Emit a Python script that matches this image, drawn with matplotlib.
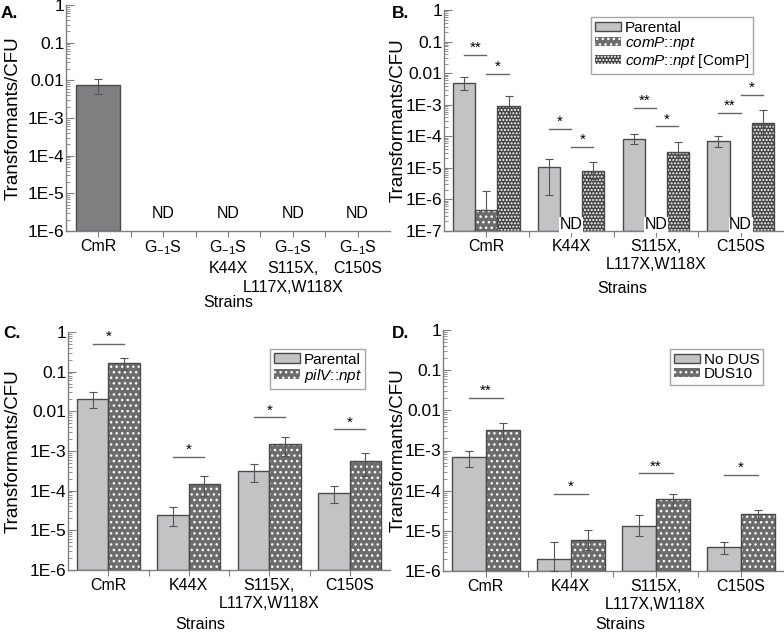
import numpy as np
import matplotlib
matplotlib.use('Agg')
import matplotlib.pyplot as plt
from matplotlib.patches import Patch
from matplotlib.ticker import FixedLocator, LogLocator, NullFormatter

plt.rcParams['font.family'] = ['Liberation Sans', 'DejaVu Sans']
plt.rcParams['mathtext.fontset'] = 'custom'
plt.rcParams['mathtext.rm'] = 'Liberation Sans'
plt.rcParams['mathtext.it'] = 'Liberation Sans:italic'
plt.rcParams['hatch.linewidth'] = 1.0

# ---- data ----
# panel A
a_strains = ['CmR', 'G$_{-1}$S', 'G$_{-1}$S\nK44X', 'G$_{-1}$S\nS115X,\nL117X,W118X', 'G$_{-1}$S\nC150S']
a_vals = [7.6e-3, np.nan, np.nan, np.nan, np.nan]
a_lo = [4.4e-3, np.nan, np.nan, np.nan, np.nan]
a_hi = [1.07e-2, np.nan, np.nan, np.nan, np.nan]

strains = ['CmR', 'K44X', 'S115X,\nL117X,W118X', 'C150S']

# panel B
b_parental = [4.9e-3, 1.05e-5, 8.5e-5, 7.1e-5]
b_parental_lo = [2.9e-3, 1.4e-6, 5.7e-5, 4.6e-5]
b_parental_hi = [7.4e-3, 1.95e-5, 1.15e-4, 1.0e-4]
b_comp = [4.5e-7, np.nan, np.nan, np.nan]
b_comp_lo = [4.5e-7, np.nan, np.nan, np.nan]
b_comp_hi = [1.8e-6, np.nan, np.nan, np.nan]
b_compc = [9.3e-4, 7.9e-6, 3.2e-5, 2.7e-4]
b_compc_lo = [5.1e-4, 4.5e-6, 1.6e-5, 1.1e-4]
b_compc_hi = [1.9e-3, 1.5e-5, 6.4e-5, 6.8e-4]
b_sig_cat = [0, 0, 1, 1, 2, 2, 3, 3]
b_sig_from = [0, 1, 0, 1, 0, 1, 0, 1]
b_sig_y = [0.037, 9.6e-3, 1.75e-4, 4.6e-5, 7.9e-4, 2.05e-4, 5.4e-4, 2.1e-3]
b_sig_txt = ['**', '*', '*', '*', '**', '*', '**', '*']

# panel C
c_parental = [0.021, 2.5e-5, 3.1e-4, 8.8e-5]
c_parental_lo = [0.012, 1.3e-5, 1.7e-4, 4.8e-5]
c_parental_hi = [0.031, 3.8e-5, 4.7e-4, 1.28e-4]
c_pilv = [0.165, 1.5e-4, 1.5e-3, 5.7e-4]
c_pilv_lo = [0.11, 7.5e-5, 7.5e-4, 2.3e-4]
c_pilv_hi = [0.22, 2.3e-4, 2.3e-3, 9.0e-4]
c_sig_y = [0.5, 7e-4, 7e-3, 3.5e-3]
c_sig_txt = ['*', '*', '*', '*']

# panel D
d_nodus = [6.8e-4, 2.0e-6, 1.34e-5, 4.0e-6]
d_nodus_lo = [3.9e-4, 1.0e-6, 7.5e-6, 2.6e-6]
d_nodus_hi = [9.5e-4, 5.3e-6, 2.5e-5, 5.2e-6]
d_dus10 = [3.3e-3, 5.8e-6, 6.2e-5, 2.6e-5]
d_dus10_lo = [1.75e-3, 3.4e-6, 3.7e-5, 1.9e-5]
d_dus10_hi = [4.8e-3, 1.04e-5, 8.5e-5, 3.3e-5]
d_sig_y = [0.02, 8.3e-5, 2.7e-4, 2.5e-4]
d_sig_txt = ['**', '*', '**', '*']

# ---- style ----
EDGE = '#4a4a4a'
AXC = '#808080'
C_PAR = '#c3c3c5'
C_DOT = '#6c6c6c'
C_CHK = '#454545'
C_A = '#7f7f81'
FS_X = 11.5     # x tick labels / Strains
FS_Y = 12.5     # y tick labels
FS_YL = 13.5    # y axis label
FS_LG = 11

fig = plt.figure(figsize=(7.84, 6.32), dpi=100)


def draw_bars(ax, x, vals, w, fc, hatch, bottom):
    vals = np.asarray(vals, float)
    ok = ~np.isnan(vals)
    x = np.asarray(x)[ok]
    h = vals[ok] - bottom
    if hatch:
        ax.bar(x, h, w, bottom=bottom, color=fc, edgecolor='white', hatch=hatch, lw=0, zorder=2)
        ax.bar(x, h, w, bottom=bottom, fill=False, edgecolor=EDGE, lw=1, zorder=3)
    else:
        ax.bar(x, h, w, bottom=bottom, color=fc, edgecolor=EDGE, lw=1, zorder=2)


def draw_err(ax, x, vals, lo, hi):
    vals = np.asarray(vals, float)
    ok = ~np.isnan(vals)
    v = vals[ok]
    yerr = [v - np.asarray(lo, float)[ok], np.asarray(hi, float)[ok] - v]
    ax.errorbar(np.asarray(x)[ok], v, yerr=yerr, fmt='none', ecolor='#555555',
                elinewidth=0.8, capsize=3, capthick=0.8, zorder=4)


def setup(ax, ymin, labels, xlab_xy, ylab_x):
    ax.set_yscale('log')
    ax.set_ylim(ymin, 1)
    n = len(labels)
    ax.set_xlim(-0.5, n - 0.5)
    decs = np.arange(int(round(np.log10(ymin))), 1)
    ax.yaxis.set_major_locator(FixedLocator(10.0 ** decs))
    names = {0: '1', -1: '0.1', -2: '0.01'}
    ax.set_yticklabels([names.get(d, '1E%d' % d) for d in decs])
    ax.yaxis.set_minor_locator(LogLocator(base=10, subs=np.arange(2, 10), numticks=20))
    ax.yaxis.set_minor_formatter(NullFormatter())
    ax.set_xticks(range(n))
    ax.set_xticklabels([''] * n)
    ax.set_xticks(np.arange(n - 1) + 0.5, minor=True)
    # strain names written as text so the line spacing can be set
    for i, lab in enumerate(labels):
        ax.annotate(lab, (i, 0), xycoords=('data', 'axes fraction'), xytext=(0, -5.5),
                    textcoords='offset points', ha='center', va='top',
                    fontsize=FS_X, linespacing=1.3, annotation_clip=False)
    ax.tick_params(axis='y', which='major', direction='in', length=6, width=0.8,
                   color=AXC, labelsize=FS_Y, pad=1)
    ax.tick_params(axis='y', which='minor', direction='in', length=3, width=0.6, color=AXC)
    ax.tick_params(axis='x', which='both', direction='out', length=4, width=0.8, color=AXC, pad=3)
    for s in ['top', 'right']:
        ax.spines[s].set_visible(False)
    for s in ['left', 'bottom']:
        ax.spines[s].set_color(AXC)
        ax.spines[s].set_linewidth(1.0)
    ax.set_ylabel('Transformants/CFU', fontsize=FS_YL)
    ax.yaxis.set_label_coords(ylab_x, 0.5)
    ax.set_xlabel('Strains', fontsize=FS_X, va='center')
    ax.xaxis.set_label_coords(*xlab_xy)


def sig(ax, x0, x1, y, txt):
    ax.plot([x0, x1], [y, y], color='#666666', lw=1, zorder=5)
    ax.annotate(txt, ((x0 + x1) / 2, y), xytext=(0, 0), textcoords='offset points',
                ha='center', va='bottom', fontsize=11)


def legend(ax, handles, labels, bbox):
    lg = ax.legend(handles, labels, loc='upper left', bbox_to_anchor=bbox, fontsize=FS_LG,
                   frameon=True, fancybox=False, edgecolor='#909090', handlelength=1.7,
                   handleheight=0.6, handletextpad=0.25, labelspacing=0.0,
                   borderpad=0.25, borderaxespad=0)
    lg.get_frame().set_linewidth(1.0)


def hatch_handle(fc, hatch):
    return Patch(facecolor=fc, edgecolor='white', hatch=hatch, lw=0)


# ---- Panel A ----
axA = fig.add_axes([66 / 784, 1 - 231 / 632, 324 / 784, 226 / 632])
setup(axA, 1e-6, a_strains, (0.5, -0.318), -0.136)
xa = np.arange(len(a_strains))
draw_bars(axA, xa, a_vals, 0.68, C_A, None, 1e-6)
draw_err(axA, xa, a_vals, a_lo, a_hi)
for i, v in enumerate(a_vals):
    if np.isnan(v):
        axA.text(i, 2.9e-6, 'ND', ha='center', va='center', fontsize=FS_X)

# ---- Panel B ----
axB = fig.add_axes([444 / 784, 1 - 231 / 632, 339 / 784, 221 / 632])
setup(axB, 1e-7, strains, (0.525, -0.26), -0.109)
xb = np.arange(len(strains))
w = 0.262
draw_bars(axB, xb - w, b_parental, w, C_PAR, None, 1e-7)
draw_bars(axB, xb, b_comp, w, C_DOT, '...', 1e-7)
draw_bars(axB, xb + w, b_compc, w, C_CHK, '.....', 1e-7)
draw_err(axB, xb - w, b_parental, b_parental_lo, b_parental_hi)
draw_err(axB, xb, b_comp, b_comp_lo, b_comp_hi)
draw_err(axB, xb + w, b_compc, b_compc_lo, b_compc_hi)
for i, v in enumerate(b_comp):
    if np.isnan(v):
        axB.text(i, 1.55e-7, 'ND', ha='center', va='center', fontsize=FS_X, zorder=6,
                 bbox=dict(facecolor='white', edgecolor='none', pad=0.3))
for c, f, y, t in zip(b_sig_cat, b_sig_from, b_sig_y, b_sig_txt):
    x0 = c + (f - 1) * w
    sig(axB, x0, x0 + w, y, t)
legend(axB, [Patch(facecolor=C_PAR, edgecolor=EDGE, lw=1),
             hatch_handle(C_DOT, '...'), hatch_handle(C_CHK, '.....')],
       ['Parental', r'$\mathit{comP}$::$\mathit{npt}$', r'$\mathit{comP}$::$\mathit{npt}$ [ComP]'],
       (0.434, 0.968))

# ---- Panel C ----
axC = fig.add_axes([68 / 784, 1 - 570 / 632, 322 / 784, 238 / 632])
setup(axC, 1e-6, strains, (0.41, -0.227), -0.143)
w = 0.39
draw_bars(axC, xb - w / 2, c_parental, w, C_PAR, None, 1e-6)
draw_bars(axC, xb + w / 2, c_pilv, w, C_DOT, '...', 1e-6)
draw_err(axC, xb - w / 2, c_parental, c_parental_lo, c_parental_hi)
draw_err(axC, xb + w / 2, c_pilv, c_pilv_lo, c_pilv_hi)
for i, (y, t) in enumerate(zip(c_sig_y, c_sig_txt)):
    sig(axC, i - w / 2, i + w / 2, y, t)
legend(axC, [Patch(facecolor=C_PAR, edgecolor=EDGE, lw=1), hatch_handle(C_DOT, '...')],
       ['Parental', r'$\mathit{pilV}$::$\mathit{npt}$'], (0.627, 0.929))

# ---- Panel D ----
axD = fig.add_axes([443 / 784, 1 - 571 / 632, 340 / 784, 241 / 632])
setup(axD, 1e-6, strains, (0.52, -0.22), -0.106)
w = 0.4
draw_bars(axD, xb - w / 2, d_nodus, w, C_PAR, None, 1e-6)
draw_bars(axD, xb + w / 2, d_dus10, w, C_DOT, '...', 1e-6)
draw_err(axD, xb - w / 2, d_nodus, d_nodus_lo, d_nodus_hi)
draw_err(axD, xb + w / 2, d_dus10, d_dus10_lo, d_dus10_hi)
for i, (y, t) in enumerate(zip(d_sig_y, d_sig_txt)):
    sig(axD, i - w / 2, i + w / 2, y, t)
legend(axD, [Patch(facecolor=C_PAR, edgecolor=EDGE, lw=1), hatch_handle(C_DOT, '...')],
       ['No DUS', 'DUS10'], (0.668, 0.921))

# panel letters
for lab, x, y in [('A.', 1, 14), ('B.', 392, 14), ('C.', 3, 334), ('D.', 392, 334)]:
    fig.text(x / 784, 1 - y / 632, lab, fontsize=12.5, fontweight='bold', va='center')

fig.savefig('out.png', dpi=100)
